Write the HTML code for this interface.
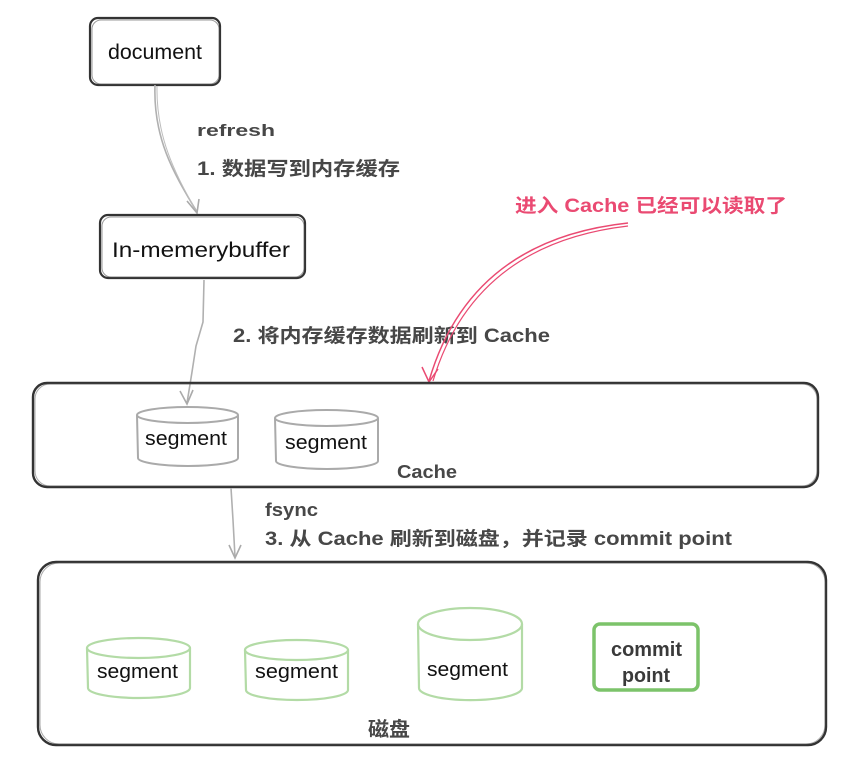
<!DOCTYPE html>
<html><head><meta charset="utf-8"><style>
html,body{margin:0;padding:0;background:#fff;}
svg{display:block;}
.node{font-family:"Liberation Sans","Noto Sans CJK SC",sans-serif;fill:#111;}
.lbl{font-family:"Liberation Sans","Noto Sans CJK SC",sans-serif;fill:#474747;font-weight:bold;}
.red{font-family:"Liberation Sans","Noto Sans CJK SC",sans-serif;fill:#ea4a72;font-weight:bold;}
</style></head><body>
<svg width="858" height="763" viewBox="0 0 858 763" xmlns="http://www.w3.org/2000/svg">
<rect width="858" height="763" fill="#fff"/>

<!-- document box -->
<rect x="90" y="18" width="130" height="67" rx="8" fill="none" stroke="#333" stroke-width="2.2"/>
<rect x="92" y="20" width="127" height="64" rx="9" fill="none" stroke="#555" stroke-width="1" opacity="0.6"/>
<text class="node" x="108" y="59" font-size="21" textLength="94" lengthAdjust="spacingAndGlyphs">document</text>

<!-- arrow 1 -->
<path d="M155,85 C153,140 175,175 197,212" fill="none" stroke="#b0b0b0" stroke-width="1.6"/>
<path d="M157,86 C156,140 177,176 196,211" fill="none" stroke="#bdbdbd" stroke-width="1"/>
<path d="M187,201 L197,213 L199,199" fill="none" stroke="#aaa" stroke-width="1.6"/>

<text class="lbl" x="197" y="136" font-size="17" textLength="78" lengthAdjust="spacingAndGlyphs">refresh</text>
<text class="lbl" x="197" y="175" font-size="19" textLength="203" lengthAdjust="spacingAndGlyphs">1. 数据写到内存缓存</text>

<!-- In-memerybuffer box -->
<rect x="100" y="215" width="205" height="63" rx="8" fill="none" stroke="#333" stroke-width="2.2"/>
<rect x="102" y="217" width="202" height="60" rx="9" fill="none" stroke="#555" stroke-width="1" opacity="0.6"/>
<text class="node" x="112" y="257" font-size="21" textLength="178" lengthAdjust="spacingAndGlyphs">In-memerybuffer</text>

<!-- arrow 2 -->
<path d="M204,280 L203,322 L196,346 L192,372 L187,403" fill="none" stroke="#b0b0b0" stroke-width="1.6"/>
<path d="M180,391 L187,404 L193,390" fill="none" stroke="#aaa" stroke-width="1.6"/>

<text class="lbl" x="233" y="342" font-size="19" textLength="317" lengthAdjust="spacingAndGlyphs">2. 将内存缓存数据刷新到 Cache</text>

<!-- red label + arrow -->
<text class="red" x="515" y="212" font-size="19" textLength="272" lengthAdjust="spacingAndGlyphs">进入 Cache 已经可以读取了</text>
<path d="M628,223 Q470,240 429,381" fill="none" stroke="#ea4a72" stroke-width="1.5"/>
<path d="M628,226 Q474,244 433,381" fill="none" stroke="#ea4a72" stroke-width="1.2"/>
<path d="M422,367 L429,382 L438,369" fill="none" stroke="#ea4a72" stroke-width="1.5"/>

<!-- Cache box -->
<rect x="33" y="383" width="785" height="104" rx="14" fill="none" stroke="#333" stroke-width="2.4"/>
<rect x="35" y="384" width="782" height="102" rx="15" fill="none" stroke="#555" stroke-width="1" opacity="0.5"/>

<!-- cache segments -->
<g fill="none" stroke="#aaa" stroke-width="2">
<ellipse cx="187.5" cy="415" rx="50.5" ry="8"/>
<path d="M137,415 L138,458 A50,8 0 0 0 238,458 L238,415"/>
<ellipse cx="326.5" cy="418" rx="51.5" ry="8"/>
<path d="M275,418 L276,461 A51,8 0 0 0 378,461 L378,418"/>
</g>
<text class="node" x="145" y="445" font-size="20" textLength="82" lengthAdjust="spacingAndGlyphs">segment</text>
<text class="node" x="285" y="449" font-size="20" textLength="82" lengthAdjust="spacingAndGlyphs">segment</text>

<text class="lbl" x="397" y="478" font-size="18" textLength="60" lengthAdjust="spacingAndGlyphs">Cache</text>

<!-- arrow 3 -->
<path d="M231,488 L233,520 L235,557" fill="none" stroke="#b0b0b0" stroke-width="1.6"/>
<path d="M229,545 L235,558 L241,545" fill="none" stroke="#aaa" stroke-width="1.6"/>

<text class="lbl" x="265" y="516" font-size="18" textLength="53" lengthAdjust="spacingAndGlyphs">fsync</text>
<text class="lbl" x="265" y="545" font-size="19" textLength="467" lengthAdjust="spacingAndGlyphs">3. 从 Cache 刷新到磁盘，并记录 commit point</text>

<!-- Disk box -->
<rect x="38" y="562" width="788" height="183" rx="18" fill="none" stroke="#333" stroke-width="2.4"/>
<rect x="40" y="563" width="785" height="181" rx="19" fill="none" stroke="#555" stroke-width="1" opacity="0.5"/>

<!-- disk segments -->
<g fill="none" stroke="#b3dba6" stroke-width="2.2">
<ellipse cx="138.5" cy="648" rx="51.5" ry="10"/>
<path d="M87,648 L88,688 A51,10 0 0 0 190,688 L190,648"/>
<ellipse cx="296.5" cy="650" rx="51.5" ry="10"/>
<path d="M245,650 L246,690 A51,10 0 0 0 348,690 L348,650"/>
<ellipse cx="470" cy="624" rx="52" ry="16"/>
<path d="M418,624 L419,688 A51,12 0 0 0 522,688 L522,624"/>
</g>
<text class="node" x="97" y="678" font-size="20" textLength="81" lengthAdjust="spacingAndGlyphs">segment</text>
<text class="node" x="255" y="678" font-size="20" textLength="83" lengthAdjust="spacingAndGlyphs">segment</text>
<text class="node" x="427" y="676" font-size="20" textLength="81" lengthAdjust="spacingAndGlyphs">segment</text>

<!-- commit point -->
<rect x="594" y="624" width="104" height="66" rx="6" fill="none" stroke="#7cc36a" stroke-width="3.5"/>
<text class="lbl" x="611" y="656" font-size="20" textLength="71" lengthAdjust="spacingAndGlyphs" style="fill:#3a3a3a">commit</text>
<text class="lbl" x="622" y="682" font-size="20" textLength="48" lengthAdjust="spacingAndGlyphs" style="fill:#3a3a3a">point</text>

<text class="lbl" x="368" y="736" font-size="20" textLength="42" lengthAdjust="spacingAndGlyphs">磁盘</text>
</svg>
</body></html>
